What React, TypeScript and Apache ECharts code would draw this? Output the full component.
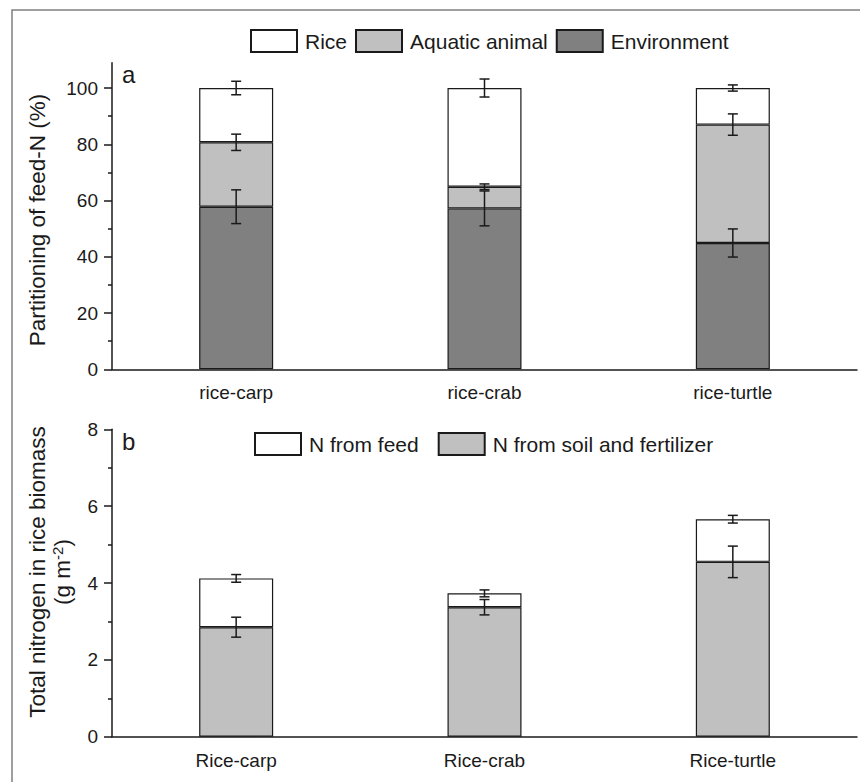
import React, { useEffect, useRef } from 'react';
import * as echarts from 'echarts';

const catsA = ['rice-carp', 'rice-crab', 'rice-turtle'];
const catsB = ['Rice-carp', 'Rice-crab', 'Rice-turtle'];
const envVals = [57.8, 57.2, 44.9];
const aquaVals = [22.9, 7.7, 42.1];
const riceVals = [19.3, 35.1, 13.0];
const envErr = [6.0, 6.2, 5.0];
const aquaErr = [2.9, 1.0, 3.8];
const riceErr = [2.4, 3.2, 1.1];
const soilVals = [2.85, 3.37, 4.55];
const feedVals = [1.27, 0.36, 1.11];
const soilErr = [0.26, 0.2, 0.41];
const feedErr = [0.1, 0.09, 0.1];
const ticksA = [0, 20, 40, 60, 80, 100];
const minorA = [10, 30, 50, 70, 90];

const FONT = 'Liberation Sans, Arial, sans-serif';
const INK = '#1a1a1a';

const errRender = (params: any, api: any) => {
  const x = api.value(0);
  const c = api.value(1);
  const e = api.value(2);
  const hi = api.coord([x, c + e]);
  const lo = api.coord([x, c - e]);
  const w = 5;
  const style = { stroke: INK, lineWidth: 1.5 };
  return {
    type: 'group',
    children: [
      { type: 'line', shape: { x1: hi[0], y1: hi[1], x2: lo[0], y2: lo[1] }, style },
      { type: 'line', shape: { x1: hi[0] - w, y1: hi[1], x2: hi[0] + w, y2: hi[1] }, style },
      { type: 'line', shape: { x1: lo[0] - w, y1: lo[1], x2: lo[0] + w, y2: lo[1] }, style },
    ],
  };
};

export default function App() {
  const ref = useRef<HTMLDivElement>(null);
  useEffect(() => {
    if (!ref.current) return;
    const chart = echarts.init(ref.current, undefined, { renderer: 'svg' });

    const errA: number[][] = [];
    catsA.forEach((_, i) => {
      errA.push([i, envVals[i], envErr[i]]);
      errA.push([i, envVals[i] + aquaVals[i], aquaErr[i]]);
      errA.push([i, envVals[i] + aquaVals[i] + riceVals[i], riceErr[i]]);
    });
    const errB: number[][] = [];
    catsB.forEach((_, i) => {
      errB.push([i, soilVals[i], soilErr[i]]);
      errB.push([i, soilVals[i] + feedVals[i], feedErr[i]]);
    });

    const axisLine = { show: true, lineStyle: { color: INK, width: 1.5 } };
    const tickStyle = { color: INK, width: 1.5 };
    const labelStyle = { color: INK, fontSize: 19, fontFamily: FONT };
    const barBorder = { borderColor: INK, borderWidth: 1.2 };

    const option: any = {
      animation: false,
      backgroundColor: '#ffffff',
      grid: [
        { left: 112, top: 62.7, width: 745, height: 306.6 },
        { left: 112, top: 429.3, width: 745, height: 307.4 },
      ],
      legend: [
        {
          left: 250, top: 29, padding: 0, itemWidth: 46, itemHeight: 22, itemGap: 8,
          data: ['Rice', 'Aquatic animal', 'Environment'],
          textStyle: { fontSize: 21, fontFamily: FONT, color: INK, padding: [0, 0, 0, 3] },
          icon: 'rect', selectedMode: false,
        },
        {
          left: 254, top: 432, padding: 0, itemWidth: 46, itemHeight: 22, itemGap: 19,
          data: ['N from feed', 'N from soil and fertilizer'],
          textStyle: { fontSize: 21, fontFamily: FONT, color: INK, padding: [0, 0, 0, 3] },
          icon: 'rect', selectedMode: false,
        },
      ],
      xAxis: [
        {
          type: 'category', gridIndex: 0, data: catsA,
          axisLine, axisTick: { alignWithLabel: true, length: 7, lineStyle: tickStyle },
          axisLabel: { ...labelStyle, margin: 14 },
        },
        {
          type: 'category', gridIndex: 1, data: catsB,
          axisLine, axisTick: { alignWithLabel: true, length: 7, lineStyle: tickStyle },
          axisLabel: { ...labelStyle, margin: 14 },
        },
      ],
      yAxis: [
        {
          type: 'value', gridIndex: 0, min: 0, max: 109, position: 'left',
          axisLine, splitLine: { show: false },
          axisTick: { show: true, length: 8, lineStyle: tickStyle, customValues: ticksA },
          axisLabel: { ...labelStyle, margin: 14, customValues: ticksA },
        },
        {
          type: 'value', gridIndex: 0, min: 0, max: 109, position: 'left',
          axisLine: { show: false }, splitLine: { show: false },
          axisTick: { show: true, length: 4, lineStyle: tickStyle, customValues: minorA },
          axisLabel: { show: false },
        },
        {
          type: 'value', gridIndex: 1, min: 0, max: 8, interval: 2, position: 'left',
          axisLine, splitLine: { show: false },
          axisTick: { show: true, length: 8, lineStyle: tickStyle },
          minorTick: { show: true, splitNumber: 2, length: 4, lineStyle: tickStyle },
          minorSplitLine: { show: false },
          axisLabel: { ...labelStyle, margin: 14 },
        },
      ],
      series: [
        {
          name: 'Environment', type: 'bar', stack: 'a', xAxisIndex: 0, yAxisIndex: 0,
          barWidth: 74, data: envVals, itemStyle: { color: '#808080', ...barBorder },
        },
        {
          name: 'Aquatic animal', type: 'bar', stack: 'a', xAxisIndex: 0, yAxisIndex: 0,
          barWidth: 74, data: aquaVals, itemStyle: { color: '#c0c0c0', ...barBorder },
        },
        {
          name: 'Rice', type: 'bar', stack: 'a', xAxisIndex: 0, yAxisIndex: 0,
          barWidth: 74, data: riceVals, itemStyle: { color: '#ffffff', ...barBorder },
        },
        {
          name: 'errA', type: 'custom', xAxisIndex: 0, yAxisIndex: 0, z: 10,
          renderItem: errRender, data: errA, encode: { x: 0, y: 1 },
        },
        {
          name: 'N from soil and fertilizer', type: 'bar', stack: 'b', xAxisIndex: 1, yAxisIndex: 2,
          barWidth: 74, data: soilVals, itemStyle: { color: '#c0c0c0', ...barBorder },
        },
        {
          name: 'N from feed', type: 'bar', stack: 'b', xAxisIndex: 1, yAxisIndex: 2,
          barWidth: 74, data: feedVals, itemStyle: { color: '#ffffff', ...barBorder },
        },
        {
          name: 'errB', type: 'custom', xAxisIndex: 1, yAxisIndex: 2, z: 10,
          renderItem: errRender, data: errB, encode: { x: 0, y: 1 },
        },
      ],
      graphic: [
        {
          type: 'rect', shape: { x: 12, y: 10, width: 900, height: 900 },
          style: { fill: 'none', stroke: '#808080', lineWidth: 1.5 }, silent: true,
        },
        {
          type: 'text', x: 122, y: 74.6,
          style: { text: 'a', fontSize: 24, fontFamily: FONT, fill: INK, textAlign: 'left', textVerticalAlign: 'middle' },
        },
        {
          type: 'text', x: 122, y: 441.6,
          style: { text: 'b', fontSize: 24, fontFamily: FONT, fill: INK, textAlign: 'left', textVerticalAlign: 'middle' },
        },
        {
          type: 'text', x: 37, y: 220, rotation: Math.PI / 2,
          style: { text: 'Partitioning of feed-N (%)', fontSize: 22.5, fontFamily: FONT, fill: INK, textAlign: 'center', textVerticalAlign: 'middle' },
        },
        {
          type: 'text', x: 37, y: 572, rotation: Math.PI / 2,
          style: { text: 'Total nitrogen in rice biomass', fontSize: 22.5, fontFamily: FONT, fill: INK, textAlign: 'center', textVerticalAlign: 'middle' },
        },
        {
          type: 'text', x: 62, y: 572, rotation: Math.PI / 2,
          style: {
            text: '(g m{sup|-2})', fontSize: 22.5, fontFamily: FONT, fill: INK, textAlign: 'center', textVerticalAlign: 'middle',
            rich: { sup: { fontSize: 15, fontFamily: FONT, fill: INK, padding: [0, 0, 10, 0] } },
          },
        },
      ],
    };
    chart.setOption(option);
    return () => chart.dispose();
  }, []);
  return <div ref={ref} style={{ position: 'fixed', left: 0, top: 0, width: 860, height: 782 }} />;
}
